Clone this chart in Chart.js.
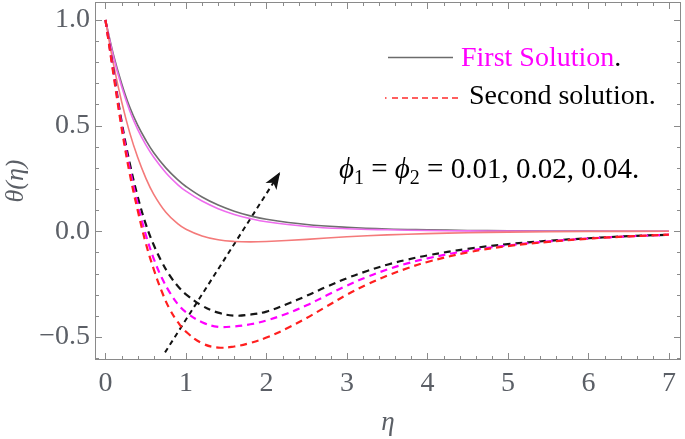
<!DOCTYPE html>
<html lang="en">
<head>
<meta charset="UTF-8">
<title>Temperature profiles θ(η)</title>
<script src="https://cdn.jsdelivr.net/npm/chart.js@4.4.0/dist/chart.umd.min.js"></script>
<style>
    html, body { margin: 0; padding: 0; background: #fff; }
    #wrap { width: 685px; height: 439px; }
</style>
</head>
<body>
<div id="wrap"><canvas id="thetaChart"></canvas></div>
<script>
// first solution (solid), eta grid
const etaFirst = [0, 0.1, 0.2, 0.3, 0.4, 0.5, 0.6, 0.75, 0.9, 1.0, 1.2, 1.4, 1.6, 1.8, 2.0, 2.5, 3.0, 3.5, 4.0, 4.5, 5, 6, 7];
const firstGray    = [1.0, 0.835, 0.701, 0.589, 0.502, 0.432, 0.372, 0.3, 0.243, 0.212, 0.162, 0.124, 0.095, 0.073, 0.057, 0.032, 0.019, 0.011, 0.007, 0.004, 0.0025, 0.001, 0];
const firstMagenta = [1.0, 0.825, 0.686, 0.572, 0.482, 0.41, 0.35, 0.277, 0.22, 0.19, 0.143, 0.107, 0.08, 0.06, 0.045, 0.023, 0.012, 0.007, 0.004, 0.002, 0.001, 0, 0];
const firstSalmon  = [1.0, 0.79, 0.615, 0.468, 0.35, 0.253, 0.175, 0.09, 0.035, 0.01, -0.022, -0.04, -0.048, -0.05, -0.048, -0.038, -0.026, -0.017, -0.011, -0.007, -0.004, -0.001, 0];

// second solution (dashed)
const etaSecond = [0, 0.1, 0.2, 0.3, 0.4, 0.5, 0.6, 0.7, 0.8, 0.9, 1.0, 1.2, 1.4, 1.6, 1.8, 2.0, 2.25, 2.5, 2.75, 3.0, 3.25, 3.5, 3.75, 4.0, 4.5, 5, 5.5, 6, 6.5, 7];
const secondRed     = [1.0, 0.74, 0.49, 0.275, 0.1, -0.055, -0.18, -0.285, -0.37, -0.43, -0.475, -0.53, -0.55, -0.545, -0.528, -0.503, -0.46, -0.41, -0.355, -0.3, -0.252, -0.21, -0.175, -0.145, -0.1, -0.07, -0.05, -0.035, -0.024, -0.016];
const secondMagenta = [1.0, 0.75, 0.505, 0.3, 0.13, -0.015, -0.13, -0.22, -0.29, -0.345, -0.383, -0.43, -0.452, -0.45, -0.44, -0.422, -0.39, -0.35, -0.303, -0.257, -0.216, -0.181, -0.152, -0.128, -0.092, -0.067, -0.048, -0.034, -0.024, -0.016];
const secondBlack   = [1.0, 0.76, 0.52, 0.325, 0.165, 0.035, -0.065, -0.145, -0.21, -0.26, -0.298, -0.352, -0.385, -0.399, -0.394, -0.38, -0.345, -0.305, -0.262, -0.222, -0.188, -0.158, -0.134, -0.114, -0.083, -0.061, -0.045, -0.033, -0.023, -0.016];

// trend arrow
const arrowEta = [0.74, 2.17];
const arrowTheta = [-0.573, 0.28];

const xTicks = [0, 1, 2, 3, 4, 5, 6, 7];
const yTicks = [-0.5, 0, 0.5, 1.0];

const SERIF = '"Liberation Serif", "DejaVu Serif", serif';
const GREY_TXT = '#5b5f66';
const FRAME = '#8a8a8a';

function pts(xs, ys) {
    return xs.map((x, i) => ({ x: x, y: ys[i] }));
}

function solid(data, color) {
    return { data: data, borderColor: color, borderWidth: 1.6, pointRadius: 0, fill: false, tension: 0.4 };
}
function dashed(data, color) {
    return { data: data, borderColor: color, borderWidth: 2.2, borderDash: [7, 5], pointRadius: 0, fill: false, tension: 0.4 };
}

// frame with inward ticks on all four sides
const frameTicks = {
    id: 'frameTicks',
    afterDraw(chart) {
        const { ctx, chartArea: a, scales } = chart;
        const xs = scales.x, ys = scales.y;
        ctx.save();
        ctx.strokeStyle = FRAME;
        ctx.lineWidth = 1;
        ctx.strokeRect(a.left + 0.5, a.top + 0.5, a.right - a.left - 1, a.bottom - a.top - 1);
        ctx.beginPath();
        for (let i = 0; i <= 35; i++) {
            const v = i * 0.2;
            const len = (i % 5 === 0) ? 7 : 4;
            const px = Math.round(xs.getPixelForValue(v)) + 0.5;
            ctx.moveTo(px, a.bottom); ctx.lineTo(px, a.bottom - len);
            ctx.moveTo(px, a.top); ctx.lineTo(px, a.top + len);
        }
        for (let i = -6; i <= 10; i++) {
            const v = i * 0.1;
            const len = (i % 5 === 0) ? 7 : 4;
            const py = Math.round(ys.getPixelForValue(v)) + 0.5;
            ctx.moveTo(a.left, py); ctx.lineTo(a.left + len, py);
            ctx.moveTo(a.right, py); ctx.lineTo(a.right - len, py);
        }
        ctx.stroke();
        ctx.restore();
    }
};

// arrow head at the end of the trend arrow
const arrowHead = {
    id: 'arrowHead',
    afterDatasetsDraw(chart) {
        const { ctx, scales } = chart;
        const x0 = scales.x.getPixelForValue(arrowEta[0]), y0 = scales.y.getPixelForValue(arrowTheta[0]);
        const x1 = scales.x.getPixelForValue(arrowEta[1]), y1 = scales.y.getPixelForValue(arrowTheta[1]);
        const ang = Math.atan2(y1 - y0, x1 - x0);
        const L = 17, W = 6.5;
        ctx.save();
        ctx.fillStyle = '#111';
        ctx.beginPath();
        ctx.moveTo(x1, y1);
        ctx.lineTo(x1 - L * Math.cos(ang) + W * Math.sin(ang), y1 - L * Math.sin(ang) - W * Math.cos(ang));
        ctx.lineTo(x1 - L * 0.75 * Math.cos(ang), y1 - L * 0.75 * Math.sin(ang));
        ctx.lineTo(x1 - L * Math.cos(ang) - W * Math.sin(ang), y1 - L * Math.sin(ang) + W * Math.cos(ang));
        ctx.closePath();
        ctx.fill();
        ctx.restore();
    }
};

// text legend and parameter note
const notes = {
    id: 'notes',
    afterDraw(chart) {
        const ctx = chart.ctx;
        ctx.save();
        // first solution
        ctx.strokeStyle = '#6b6b6b';
        ctx.lineWidth = 1.3;
        ctx.beginPath(); ctx.moveTo(388, 57.5); ctx.lineTo(453, 57.5); ctx.stroke();
        ctx.font = '28px ' + SERIF;
        ctx.textBaseline = 'alphabetic';
        ctx.fillStyle = '#ff00ff';
        ctx.fillText('First Solution', 461, 66);
        const w1 = ctx.measureText('First Solution').width;
        ctx.fillStyle = '#000';
        ctx.fillText('.', 461 + w1, 66);
        // second solution
        ctx.strokeStyle = '#ff2a2a';
        ctx.lineWidth = 1.3;
        ctx.beginPath(); ctx.moveTo(385, 98); ctx.lineTo(386.5, 98); ctx.stroke();
        ctx.setLineDash([6, 4]);
        ctx.beginPath(); ctx.moveTo(392, 98); ctx.lineTo(458, 98); ctx.stroke();
        ctx.setLineDash([]);
        ctx.fillStyle = '#000';
        ctx.fillText('Second solution.', 469, 104);
        // phi note
        const runs = [
            { t: '\u03D5', f: 'italic 29px ' + SERIF, dy: 0 },
            { t: '1', f: '20px ' + SERIF, dy: 6 },
            { t: ' = ', f: '29px ' + SERIF, dy: 0 },
            { t: '\u03D5', f: 'italic 29px ' + SERIF, dy: 0 },
            { t: '2', f: '20px ' + SERIF, dy: 6 },
            { t: ' = 0.01, 0.02, 0.04.', f: '29px ' + SERIF, dy: 0 }
        ];
        let x = 339;
        runs.forEach(r => {
            ctx.font = r.f;
            ctx.fillText(r.t, x, 178 + r.dy);
            x += ctx.measureText(r.t).width;
        });
        ctx.restore();
    }
};

new Chart(document.getElementById('thetaChart'), {
    type: 'line',
    data: {
        datasets: [
            dashed(pts(etaSecond, secondRed), '#ff1f1f'),
            dashed(pts(etaSecond, secondMagenta), '#ff00ff'),
            dashed(pts(etaSecond, secondBlack), '#161616'),
            solid(pts(etaFirst, firstSalmon), '#f47a7a'),
            solid(pts(etaFirst, firstMagenta), '#ee6cee'),
            solid(pts(etaFirst, firstGray), '#6e6e6e'),
            { data: pts(arrowEta, arrowTheta), borderColor: '#111', borderWidth: 2, borderDash: [5, 4], pointRadius: 0, fill: false }
        ]
    },
    options: {
        responsive: true,
        maintainAspectRatio: false,
        animation: false,
        layout: { padding: { top: 2, right: 4, left: 0, bottom: 0 } },
        plugins: { legend: { display: false }, tooltip: { enabled: false } },
        scales: {
            x: {
                type: 'linear',
                min: -0.13, max: 7.15,
                afterBuildTicks: s => { s.ticks = xTicks.map(v => ({ value: v })); },
                afterFit: s => { s.height = 79; s.paddingLeft = 0; s.paddingRight = 0; },
                grid: { display: false, drawTicks: false },
                border: { display: false },
                ticks: { color: GREY_TXT, font: { family: SERIF, size: 28 }, padding: 7, maxRotation: 0 },
                title: { display: true, text: '\u03B7', color: GREY_TXT, font: { family: SERIF, size: 27, style: 'italic' }, padding: { top: 0, bottom: 0 } }
            },
            y: {
                type: 'linear',
                min: -0.609, max: 1.085,
                afterBuildTicks: s => { s.ticks = yTicks.map(v => ({ value: v })); },
                afterFit: s => { s.width = 95; s.paddingTop = 0; s.paddingBottom = 0; },
                grid: { display: false, drawTicks: false },
                border: { display: false },
                ticks: {
                    color: GREY_TXT, font: { family: SERIF, size: 28 }, padding: 5,
                    callback: v => (v < 0 ? '\u2212' : '') + Math.abs(v).toFixed(1)
                },
                title: { display: true, text: '\u03B8(\u03B7)', color: GREY_TXT, font: { family: SERIF, size: 26, style: 'italic' }, padding: { top: 1, bottom: 0 } }
            }
        }
    },
    plugins: [frameTicks, arrowHead, notes]
});
</script>
</body>
</html>
